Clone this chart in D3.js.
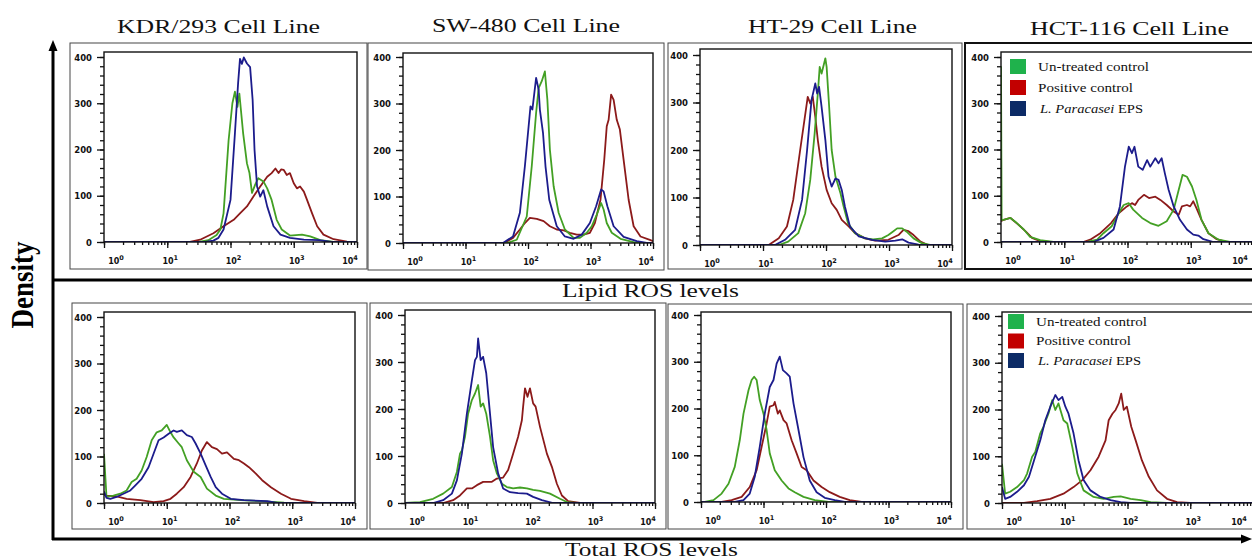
<!DOCTYPE html>
<html>
<head>
<meta charset="utf-8">
<script src="https://cdn.jsdelivr.net/npm/d3@7"></script>
<style>
  html, body { margin: 0; padding: 0; background: #fff; overflow: hidden; }
  svg { display: block; }
</style>
</head>
<body>
<svg id="chart" width="1252" height="559"></svg>
<script>
// ROS flow cytometry histograms, 4 cell lines x 2 assays
// points are [log10 fluorescence, count]
const cellLines = ["KDR/293 Cell Line", "SW-480 Cell Line", "HT-29 Cell Line", "HCT-116 Cell Line"];
const rowLabels = ["Lipid ROS levels", "Total ROS levels"];
const seriesNames = ["Un-treated control", "Positive control", "EPS"];
const yTicks = [0, 100, 200, 300, 400];
const xDecades = [0, 1, 2, 3, 4];

// lipid ROS
const kdrLipidGreen = [[0,0],[1.5,0],[1.65,4],[1.78,15],[1.84,27],[1.89,62],[1.97,220],[2.03,300],[2.07,325],[2.11,292],[2.14,321],[2.2,235],[2.26,170],[2.3,149],[2.34,106],[2.39,124],[2.44,138],[2.52,131],[2.58,116],[2.65,91],[2.73,48],[2.81,27],[2.94,14],[3.13,16],[3.26,12],[3.42,4],[3.63,0],[4,0]];
const kdrLipidRed = [[0,0],[1.36,0],[1.52,5],[1.73,19],[1.89,34],[2.05,48],[2.15,62],[2.26,77],[2.36,98],[2.47,120],[2.58,141],[2.65,149],[2.71,159],[2.76,149],[2.8,157],[2.84,156],[2.89,145],[2.94,149],[3.0,127],[3.05,116],[3.1,120],[3.16,109],[3.21,91],[3.29,62],[3.37,34],[3.47,16],[3.63,6],[3.84,1],[4,0]];
const kdrLipidBlue = [[0,0],[1.6,0],[1.73,3],[1.81,9],[1.89,27],[2.0,91],[2.07,235],[2.12,343],[2.15,396],[2.18,385],[2.21,399],[2.26,386],[2.31,378],[2.35,307],[2.38,199],[2.42,120],[2.47,98],[2.52,112],[2.58,77],[2.68,34],[2.79,16],[2.94,9],[3.16,5],[3.4,4],[3.6,0],[4,0]];

const swLipidGreen = [[0,0],[1.66,0],[1.82,7],[1.98,57],[2.06,165],[2.13,280],[2.17,333],[2.22,348],[2.27,369],[2.31,308],[2.35,201],[2.41,122],[2.49,65],[2.59,29],[2.73,11],[2.83,11],[2.94,22],[3.02,36],[3.1,61],[3.17,86],[3.21,72],[3.26,43],[3.34,22],[3.48,9],[3.69,2],[3.85,0],[4,0]];
const swLipidRed = [[0,0],[1.62,0],[1.76,11],[1.87,29],[1.95,43],[2.03,54],[2.14,52],[2.25,47],[2.35,36],[2.46,29],[2.57,27],[2.67,22],[2.78,18],[2.89,18],[2.99,22],[3.07,43],[3.16,93],[3.22,179],[3.26,251],[3.29,265],[3.33,319],[3.37,308],[3.42,265],[3.47,244],[3.53,179],[3.61,93],[3.69,36],[3.8,14],[3.96,6],[4,4]];
const swLipidBlue = [[0,0],[1.6,0],[1.76,14],[1.87,65],[1.95,165],[2.04,294],[2.07,287],[2.13,355],[2.17,330],[2.19,287],[2.24,237],[2.28,165],[2.34,93],[2.46,36],[2.59,14],[2.73,9],[2.86,18],[2.99,43],[3.09,79],[3.17,115],[3.21,111],[3.27,79],[3.37,36],[3.53,13],[3.74,4],[3.9,0],[4,0]];

const htLipidGreen = [[0,0],[1.25,0],[1.4,7],[1.56,25],[1.67,67],[1.75,137],[1.82,235],[1.87,319],[1.9,375],[1.93,361],[1.99,393],[2.01,375],[2.05,291],[2.09,200],[2.15,144],[2.23,109],[2.28,81],[2.35,46],[2.46,25],[2.62,14],[2.75,12],[2.89,14],[2.99,21],[3.06,28],[3.13,35],[3.21,35],[3.28,28],[3.39,14],[3.52,4],[3.65,0],[4,0]];
const htLipidRed = [[0,0],[1.09,0],[1.25,14],[1.38,39],[1.48,95],[1.59,200],[1.71,312],[1.75,298],[1.79,312],[1.83,270],[1.87,221],[1.93,165],[2.01,116],[2.09,88],[2.17,74],[2.25,53],[2.36,39],[2.46,25],[2.62,14],[2.78,9],[2.99,11],[3.15,21],[3.23,32],[3.31,29],[3.39,21],[3.5,7],[3.62,0],[4,0]];
const htLipidBlue = [[0,0],[1.19,0],[1.35,11],[1.51,32],[1.62,95],[1.7,200],[1.77,305],[1.83,340],[1.86,319],[1.89,333],[1.93,291],[1.99,221],[2.04,144],[2.09,123],[2.15,140],[2.2,137],[2.25,116],[2.3,81],[2.38,39],[2.52,18],[2.73,11],[2.94,7],[3.1,9],[3.21,12],[3.31,5],[3.47,1],[3.6,0],[4,0]];

const hctLipidGreen = [[0,380],[0.01,48],[0.04,48],[0.15,52],[0.25,41],[0.36,27],[0.46,11],[0.62,4],[0.83,0],[1.36,0],[1.52,5],[1.62,19],[1.75,34],[1.86,62],[1.94,80],[2.02,84],[2.09,70],[2.23,52],[2.36,41],[2.49,35],[2.62,45],[2.73,70],[2.81,113],[2.87,145],[2.94,141],[3.02,120],[3.09,91],[3.17,48],[3.28,19],[3.44,5],[3.62,0],[4,0]];
const hctLipidRed = [[0,45],[0.04,48],[0.15,52],[0.27,38],[0.39,23],[0.49,9],[0.62,2],[0.78,0],[1.3,0],[1.41,5],[1.57,19],[1.74,41],[1.86,62],[1.99,77],[2.07,84],[2.12,80],[2.17,91],[2.26,102],[2.34,95],[2.44,98],[2.52,91],[2.62,80],[2.73,66],[2.81,59],[2.86,77],[2.94,80],[2.99,77],[3.04,88],[3.09,73],[3.17,48],[3.28,19],[3.41,6],[3.57,0],[4,0]];
const hctLipidBlue = [[0,0],[1.46,0],[1.62,9],[1.78,27],[1.88,77],[1.96,163],[2.02,206],[2.07,192],[2.11,206],[2.17,163],[2.24,156],[2.31,177],[2.36,163],[2.44,181],[2.49,170],[2.54,181],[2.59,149],[2.65,113],[2.73,77],[2.83,48],[2.94,27],[3.04,16],[3.12,14],[3.2,6],[3.36,0],[4,0]];

// total ROS
const kdrTotalGreen = [[0,106],[0.04,13],[0.15,16],[0.26,20],[0.36,27],[0.44,45],[0.52,52],[0.6,70],[0.68,99],[0.76,135],[0.84,152],[0.92,156],[1.0,168],[1.06,152],[1.11,141],[1.19,128],[1.24,120],[1.32,92],[1.43,67],[1.54,56],[1.64,31],[1.78,16],[1.91,9],[2.18,6],[2.5,4],[2.87,1],[3.1,0],[4,0]];
const kdrTotalRed = [[0,18],[0.04,16],[0.2,14],[0.36,9],[0.58,6],[0.79,2],[0.95,4],[1.06,9],[1.16,20],[1.27,34],[1.38,56],[1.48,85],[1.56,113],[1.64,131],[1.72,120],[1.8,116],[1.88,106],[1.96,109],[2.07,95],[2.15,92],[2.23,85],[2.31,77],[2.42,63],[2.52,49],[2.66,34],[2.82,20],[2.98,9],[3.19,4],[3.4,0],[4,0]];
const kdrTotalBlue = [[0,25],[0.04,11],[0.1,9],[0.2,13],[0.31,20],[0.42,27],[0.5,38],[0.6,52],[0.71,77],[0.79,106],[0.87,135],[0.95,141],[1.03,149],[1.11,156],[1.16,153],[1.24,156],[1.32,146],[1.4,142],[1.46,128],[1.54,106],[1.62,81],[1.7,56],[1.78,34],[1.88,20],[2.02,9],[2.23,6],[2.6,4],[2.76,0],[4,0]];

const swTotalGreen = [[0,0],[0.24,2],[0.45,9],[0.61,20],[0.75,34],[0.83,66],[0.88,105],[0.91,112],[0.96,141],[1.01,190],[1.07,219],[1.12,233],[1.17,251],[1.21,205],[1.25,212],[1.3,190],[1.36,141],[1.41,91],[1.47,63],[1.55,41],[1.63,34],[1.73,31],[1.84,33],[1.95,31],[2.05,28],[2.16,26],[2.32,20],[2.48,9],[2.59,2],[2.75,0],[4,0]];
const swTotalRed = [[0,0],[0.61,0],[0.77,6],[0.88,16],[0.99,31],[1.07,31],[1.15,38],[1.25,45],[1.39,45],[1.47,52],[1.57,54],[1.65,70],[1.73,105],[1.81,141],[1.87,176],[1.89,205],[1.92,244],[1.96,226],[2.0,244],[2.05,212],[2.09,205],[2.16,162],[2.27,105],[2.35,77],[2.43,41],[2.51,16],[2.61,4],[2.8,0],[4,0]];
const swTotalBlue = [[0,0],[0.45,0],[0.61,6],[0.75,20],[0.83,48],[0.91,105],[0.99,190],[1.07,261],[1.12,304],[1.15,311],[1.17,350],[1.21,304],[1.25,311],[1.3,276],[1.36,190],[1.41,119],[1.49,63],[1.57,31],[1.68,23],[1.81,21],[1.95,20],[2.05,13],[2.19,6],[2.37,0],[4,0]];

const htTotalGreen = [[0,0],[0.06,0],[0.2,4],[0.33,18],[0.44,39],[0.54,75],[0.62,132],[0.68,189],[0.76,239],[0.81,261],[0.85,268],[0.89,261],[0.94,218],[1.0,189],[1.05,154],[1.1,104],[1.18,68],[1.29,46],[1.4,29],[1.5,21],[1.64,11],[1.82,4],[2.04,0],[4,0]];
const htTotalRed = [[0,0],[0.33,0],[0.49,4],[0.65,11],[0.78,32],[0.89,68],[0.97,118],[1.05,168],[1.1,204],[1.16,207],[1.18,214],[1.23,189],[1.26,196],[1.32,175],[1.37,168],[1.45,132],[1.53,104],[1.61,75],[1.69,68],[1.8,46],[1.93,32],[2.06,21],[2.22,11],[2.38,4],[2.57,0],[4,0]];
const htTotalBlue = [[0,0],[0.54,0],[0.68,4],[0.78,18],[0.86,54],[0.94,118],[1.02,189],[1.1,246],[1.16,261],[1.21,296],[1.26,311],[1.31,282],[1.37,275],[1.42,268],[1.48,211],[1.56,154],[1.64,96],[1.74,46],[1.85,21],[1.98,9],[2.14,4],[2.3,0],[4,0]];

const hctTotalGreen = [[0,84],[0.05,20],[0.13,24],[0.24,34],[0.35,49],[0.4,63],[0.48,99],[0.53,109],[0.61,149],[0.66,163],[0.74,191],[0.8,220],[0.85,199],[0.9,213],[0.98,177],[1.04,170],[1.12,120],[1.2,63],[1.3,27],[1.46,13],[1.62,9],[1.78,13],[1.89,14],[2.05,9],[2.21,6],[2.37,2],[2.63,0],[4,0]];
const hctTotalRed = [[0,0],[0.35,0],[0.56,4],[0.77,9],[0.98,20],[1.14,34],[1.28,49],[1.41,70],[1.54,99],[1.65,134],[1.7,177],[1.76,191],[1.81,199],[1.86,213],[1.9,234],[1.94,199],[1.99,206],[2.06,163],[2.13,134],[2.23,91],[2.34,56],[2.47,27],[2.63,9],[2.79,2],[3.0,0],[4,0]];
const hctTotalBlue = [[0,34],[0.05,9],[0.13,13],[0.24,24],[0.35,38],[0.43,56],[0.51,91],[0.61,134],[0.69,177],[0.77,206],[0.85,231],[0.9,220],[0.96,227],[1.01,206],[1.06,191],[1.14,149],[1.22,91],[1.3,49],[1.41,27],[1.57,13],[1.73,6],[1.89,2],[2.05,0],[4,0]];

const lineColors = ["#43a024", "#8c1a1a", "#1c1c8c"];
const legendColors = ["#1fb24c", "#c20000", "#0c2b66"];

const panels = [
  { box: [70, 43, 297, 226], left: 104, right: 357, top: 52, y0: 242, y400: 57, curves: [kdrLipidRed, kdrLipidGreen, kdrLipidBlue] },
  { box: [368, 43, 296, 227], left: 403, right: 653, top: 53, y0: 243, y400: 57, curves: [swLipidRed, swLipidGreen, swLipidBlue] },
  { box: [668, 43, 294, 226], left: 700, right: 952, top: 49, y0: 245, y400: 55, curves: [htLipidRed, htLipidGreen, htLipidBlue] },
  { box: [965, 43, 300, 226], left: 1001, right: 1254, top: 52, y0: 242, y400: 57, curves: [hctLipidRed, hctLipidGreen, hctLipidBlue], legend: [1010, 59, 21], dark: true, lastShift: -14 },
  { box: [72, 303, 295, 226], left: 104, right: 355, top: 312, y0: 503, y400: 317, curves: [kdrTotalRed, kdrTotalGreen, kdrTotalBlue] },
  { box: [370, 303, 296, 226], left: 405, right: 655, top: 310, y0: 503, y400: 315, curves: [swTotalRed, swTotalGreen, swTotalBlue] },
  { box: [668, 304, 295, 225], left: 701, right: 951, top: 312, y0: 502, y400: 315, curves: [htTotalRed, htTotalGreen, htTotalBlue] },
  { box: [967, 304, 300, 225], left: 1002, right: 1253, top: 312, y0: 503, y400: 316, curves: [hctTotalRed, hctTotalGreen, hctTotalBlue], legend: [1008, 314, 19.5], lastShift: -14 }
];
// curve arrays above are ordered red, green, blue -> colour index
const curveColorIndex = [1, 0, 2];

const svg = d3.select("#chart");
const serif = "'Liberation Serif', 'Times New Roman', serif";
const sans = "'DejaVu Sans', Arial, sans-serif";

panels.forEach((p, i) => drawPanel(p, i));
drawFrame();

function drawPanel(p, i) {
  const g = svg.append("g");

  g.append("rect")
    .attr("x", p.box[0]).attr("y", p.box[1])
    .attr("width", p.box[2]).attr("height", p.box[3])
    .attr("fill", "none")
    .attr("stroke", p.dark ? "#111" : "#474747")
    .attr("stroke-width", p.dark ? 2 : 1);

  const x = d3.scaleLog().domain([1, 1e4]).range([p.left, p.right]);
  const y = d3.scaleLinear().domain([0, 400]).range([p.y0, p.y400]);

  const clipId = "clip" + i;
  g.append("clipPath").attr("id", clipId)
    .append("rect")
    .attr("x", p.left).attr("y", p.top)
    .attr("width", p.right - p.left).attr("height", p.y0 - p.top);

  const line = d3.line()
    .x(d => x(Math.pow(10, d[0])))
    .y(d => y(d[1]));

  g.append("g").attr("clip-path", `url(#${clipId})`)
    .selectAll("path")
    .data(p.curves)
    .join("path")
    .attr("d", line)
    .attr("fill", "none")
    .attr("stroke", (d, k) => lineColors[curveColorIndex[k]])
    .attr("stroke-width", 1.8)
    .attr("stroke-linejoin", "round");

  // plot frame
  g.append("rect")
    .attr("x", p.left).attr("y", p.top)
    .attr("width", p.right - p.left).attr("height", p.y0 - p.top)
    .attr("fill", "none").attr("stroke", "#111").attr("stroke-width", 1.4);

  // y axis: minor every 20, labels every 100
  const yMinor = g.append("g").attr("transform", `translate(${p.left},0)`)
    .call(d3.axisLeft(y).tickValues(d3.range(0, 401, 20)).tickSize(4).tickFormat(""));
  const yMajor = g.append("g").attr("transform", `translate(${p.left},0)`)
    .call(d3.axisLeft(y).tickValues(yTicks).tickSize(7).tickPadding(6));
  [yMinor, yMajor].forEach(a => a.select(".domain").remove());
  g.selectAll(".tick line").attr("stroke", "#111").attr("stroke-width", 1.3);
  yMajor.selectAll("text")
    .attr("font-family", sans).attr("font-weight", "bold")
    .attr("font-size", 8.5).attr("fill", "#111")
    .attr("x", -12).attr("dy", "0.36em");

  // x axis: log minor ticks, decade majors
  const allTicks = x.ticks();
  const majors = xDecades.map(e => Math.pow(10, e));
  const xMinor = g.append("g").attr("transform", `translate(0,${p.y0})`)
    .call(d3.axisBottom(x).tickValues(allTicks).tickSize(3).tickFormat(""));
  const xMajor = g.append("g").attr("transform", `translate(0,${p.y0})`)
    .call(d3.axisBottom(x).tickValues(majors).tickSize(6).tickFormat(""));
  [xMinor, xMajor].forEach(a => {
    a.select(".domain").remove();
    a.selectAll(".tick line").attr("stroke", "#111").attr("stroke-width", 1.3);
  });

  const shift = [12, 3, 3, 3, p.lastShift || -7];
  xDecades.forEach((e, k) => {
    const t = g.append("text")
      .attr("x", x(Math.pow(10, e)) + shift[k])
      .attr("y", p.y0 + 22)
      .attr("text-anchor", "middle")
      .attr("font-family", sans).attr("font-weight", "bold")
      .attr("font-size", 8).attr("fill", "#111");
    t.append("tspan").text("10");
    t.append("tspan").attr("dy", -4).attr("font-size", 6.5).text(e);
  });

  if (p.legend) drawLegend(g, p.legend);
}

function drawLegend(g, [lx, ly, step]) {
  const widths = [111, 95, 103];
  seriesNames.forEach((name, k) => {
    const yy = ly + k * step;
    g.append("rect")
      .attr("x", lx).attr("y", yy)
      .attr("width", 16).attr("height", 15)
      .attr("fill", legendColors[k]);
    const t = g.append("text")
      .attr("x", lx + 28 + (k === 2 ? 2 : 0))
      .attr("y", yy + 11.5)
      .attr("font-family", serif).attr("font-size", 13.5).attr("fill", "#111")
      .attr("textLength", widths[k]).attr("lengthAdjust", "spacingAndGlyphs");
    if (k === 2) {
      t.append("tspan").attr("font-style", "italic").text("L. Paracasei");
      t.append("tspan").text(" " + name);
    } else {
      t.text(name);
    }
  });
}

function drawFrame() {
  const titleSpots = [[117, 33, 203], [432, 32, 188], [748, 33, 169], [1030, 35, 199]];
  cellLines.forEach((name, k) => {
    svg.append("text")
      .attr("x", titleSpots[k][0]).attr("y", titleSpots[k][1])
      .attr("font-family", serif).attr("font-size", 19).attr("fill", "#111")
      .attr("textLength", titleSpots[k][2]).attr("lengthAdjust", "spacingAndGlyphs")
      .text(name);
  });

  const rowSpots = [[562, 297, 177], [565, 556, 173]];
  rowLabels.forEach((name, k) => {
    svg.append("text")
      .attr("x", rowSpots[k][0]).attr("y", rowSpots[k][1])
      .attr("font-family", serif).attr("font-size", 19).attr("fill", "#111")
      .attr("textLength", rowSpots[k][2]).attr("lengthAdjust", "spacingAndGlyphs")
      .text(name);
  });

  svg.append("text")
    .attr("transform", "translate(33,285) rotate(-90) scale(1,1.15)")
    .attr("text-anchor", "middle")
    .attr("font-family", serif).attr("font-weight", "bold")
    .attr("font-size", 27).attr("fill", "#000")
    .text("Density");

  const frame = svg.append("g").attr("stroke", "#000").attr("stroke-width", 3).attr("fill", "none");
  frame.append("line").attr("x1", 53).attr("y1", 48).attr("x2", 53).attr("y2", 540);
  frame.append("line").attr("x1", 53).attr("y1", 280).attr("x2", 1252).attr("y2", 280);
  frame.append("line").attr("x1", 52).attr("y1", 539).attr("x2", 1244).attr("y2", 539);

  svg.append("path").attr("d", "M53,40 L48.5,51 L57.5,51 Z").attr("fill", "#000");
  svg.append("path").attr("d", "M1252,539 L1241,534.5 L1241,543.5 Z").attr("fill", "#000");
}
</script>
</body>
</html>
